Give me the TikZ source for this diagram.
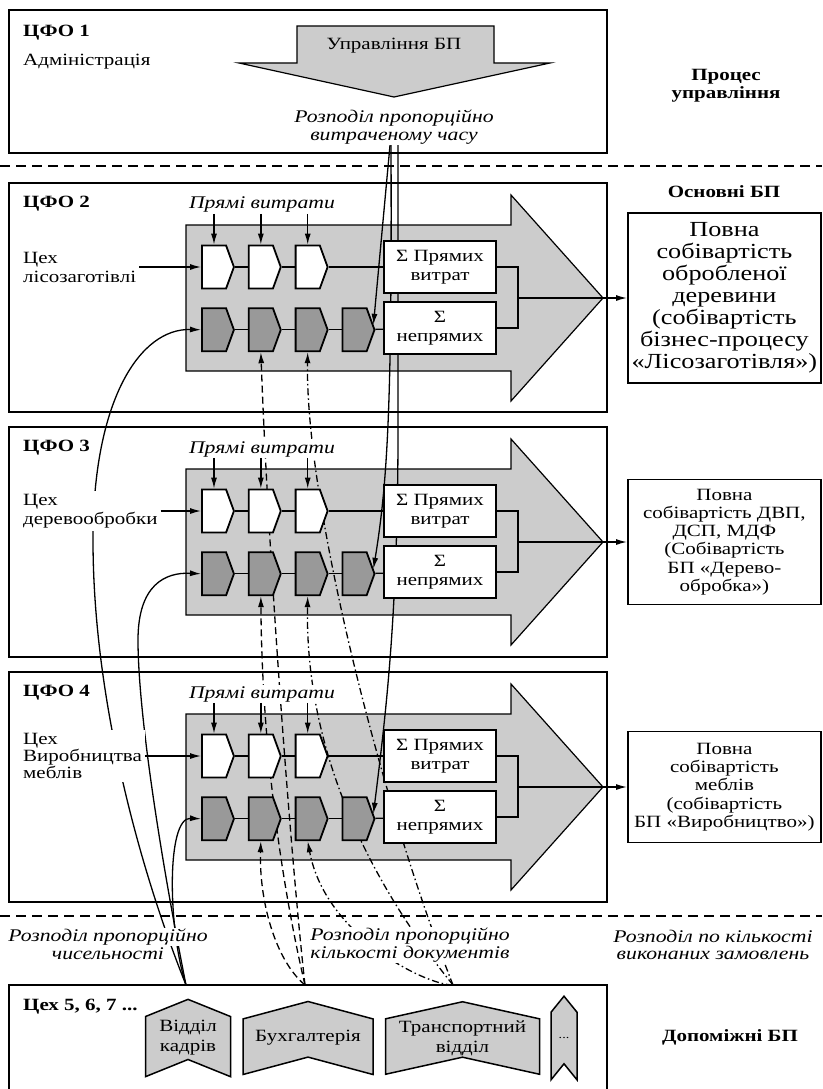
\documentclass[tikz,border=0pt]{standalone}
\usepackage{fontspec}
\setmainfont{Liberation Serif}[FakeStretch=1.22]
\usetikzlibrary{positioning,shapes.symbols,arrows.meta}

\pgfdeclarelayer{back}
\pgfdeclarelayer{mid}
\pgfsetlayers{back,mid,main}

\definecolor{flowgray}{gray}{0.8}
\definecolor{costgray}{gray}{0.6}

\begin{document}
\begin{tikzpicture}[x=1pt,y=-1pt,>={Latex[length=11pt,width=6pt]},
    txt/.style={font=\fontsize{17.2}{19}\selectfont,inner sep=3pt},
    boldtxt/.style={font=\fontsize{17.2}{18}\selectfont\bfseries,inner sep=3pt},
    distr/.style={font=\fontsize{17.8}{17.5}\selectfont\itshape,align=center,fill=white,inner sep=1pt},
    cfobox/.style={draw,line width=1.8pt},
    divider/.style={line width=1.3pt,dash pattern=on 10pt off 6pt},
    flow/.style={draw,line width=1.2pt,fill=flowgray},
    cost/.style={signal,signal to=east,signal pointer angle=140,draw,line width=1.8pt,
        minimum width=32pt,minimum height=43pt,inner sep=0pt},
    wcost/.style={cost,fill=white},
    icost/.style={cost,fill=costgray},
    sumbox/.style={draw,fill=white,line width=1.8pt,minimum width=112pt,minimum height=52pt,
        align=center,inner sep=1pt,font=\fontsize{17.2}{19}\selectfont},
    resbox/.style={draw,line width=1.8pt,anchor=west,align=center,minimum width=193pt,
        inner sep=1pt,font=\fontsize{17.2}{18.3}\selectfont},
    dept/.style={signal,signal to=north,signal from=south,draw,fill=flowgray,line width=1.5pt,
        minimum height=67pt,align=center,inner sep=1pt,font=\fontsize{17.2}{20}\selectfont},
    conn/.style={line width=1.3pt},
    adminline/.style={conn,->},
    staffline/.style={conn,->},
    docline/.style={conn,->,dash pattern=on 7pt off 4pt},
    transline/.style={conn,->,dash pattern=on 7pt off 3pt on 1.5pt off 3pt}]

    \useasboundingbox (0,0) rectangle (822,1089);

    % ЦФО 1
    \node[boldtxt,anchor=west] (c1) at (20,33) {ЦФО 1};
    \node[txt,anchor=west] (adm) at (20,62) {Адміністрація};
    \node[txt] (upr) at (394,46) {Управління БП};
    \coordinate (tip1) at (394,97);
    \node[distr] (ta) at (394,127) {Розподіл пропорційно\\витраченому часу};
    \node[boldtxt,align=center] (proc) at (726,86) {Процес\\управління};
    \node[boldtxt] (osn) at (724,192) {Основні БП};

    % ЦФО 2
    \node[boldtxt,anchor=west] (c2) at (20,204) {ЦФО 2};
    \node[distr] (pv2) at (262,205) {Прямі витрати};
    \node[txt,align=left,anchor=west,fill=white] (ceh2) at (20,267) {Цех\\лісозаготівлі};
    \node[wcost] (w21) at (214,267) {};
    \node[wcost] (w22) [right=13pt of w21] {};
    \node[wcost] (w23) [right=13pt of w22] {};
    \node[icost] (d21) [below=18pt of w21] {};
    \node[icost] (d22) [right=13pt of d21] {};
    \node[icost] (d23) [right=13pt of d22] {};
    \node[icost] (d24) [right=13pt of d23] {};
    \node[sumbox] (s21) at (440,267) {Σ Прямих\\витрат};
    \node[sumbox] (s22) at (440,328) {Σ\\непрямих};
    \coordinate (b2) at (518,298);
    \node[resbox,minimum height=170pt,font=\fontsize{21.5}{22}\selectfont] (r2) at (627,298)
        {Повна\\собівартість\\обробленої\\деревини\\(собівартість\\бізнес-процесу\\«Лісозаготівля»)};

    % ЦФО 3
    \node[boldtxt,anchor=west] (c3) at (20,448) {ЦФО 3};
    \node[distr] (pv3) at (262,449) {Прямі витрати};
    \node[txt,align=left,anchor=west,fill=white] (ceh3) at (20,511) {Цех\\деревообробки};
    \node[wcost] (w31) at (214,511) {};
    \node[wcost] (w32) [right=13pt of w31] {};
    \node[wcost] (w33) [right=13pt of w32] {};
    \node[icost] (d31) [below=18pt of w31] {};
    \node[icost] (d32) [right=13pt of d31] {};
    \node[icost] (d33) [right=13pt of d32] {};
    \node[icost] (d34) [right=13pt of d33] {};
    \node[sumbox] (s31) at (440,511) {Σ Прямих\\витрат};
    \node[sumbox] (s32) at (440,572) {Σ\\непрямих};
    \coordinate (b3) at (518,542);
    \node[resbox,minimum height=125pt] (r3) at (627,542)
        {Повна\\собівартість ДВП,\\ДСП, МДФ\\(Собівартість\\БП «Дерево-\\обробка»)};

    % ЦФО 4
    \node[boldtxt,anchor=west] (c4) at (20,693) {ЦФО 4};
    \node[distr] (pv4) at (262,694) {Прямі витрати};
    \node[txt,align=left,anchor=west,fill=white,font=\fontsize{17.2}{17}\selectfont] (ceh4) at (20,756)
        {Цех\\Виробництва\\меблів};
    \node[wcost] (w41) at (214,756) {};
    \node[wcost] (w42) [right=13pt of w41] {};
    \node[wcost] (w43) [right=13pt of w42] {};
    \node[icost] (d41) [below=18pt of w41] {};
    \node[icost] (d42) [right=13pt of d41] {};
    \node[icost] (d43) [right=13pt of d42] {};
    \node[icost] (d44) [right=13pt of d43] {};
    \node[sumbox] (s41) at (440,756) {Σ Прямих\\витрат};
    \node[sumbox] (s42) at (440,817) {Σ\\непрямих};
    \coordinate (b4) at (518,787);
    \node[resbox,minimum height=111pt] (r4) at (627,787)
        {Повна\\собівартість\\меблів\\(собівартість\\БП «Виробництво»)};

    % допоміжні БП
    \node[distr] (dk1) at (108,937) {Розподіл пропорційно};
    \node[distr] (dk2) at (108,954) {чисельності};
    \node[distr] (dd) at (410,945) {Розподіл пропорційно\\кількості документів};
    \node[distr] (dz) at (713,945) {Розподіл по кількості\\виконаних замовлень};
    \node[boldtxt,anchor=west] (c5) at (20,1007) {Цех 5, 6, 7 ...};
    \node[dept,minimum width=85pt,signal pointer angle=136] (kadry) at (188,1038) {Відділ\\кадрів};
    \node[dept,minimum width=130pt,signal pointer angle=150] (buh) [right=11pt of kadry] {Бухгалтерія};
    \node[dept,minimum width=154pt,signal pointer angle=155] (trans) [right=11pt of buh] {Транспортний\\відділ};
    \node[dept,minimum width=26pt,signal pointer angle=78,font=\fontsize{11.5}{12}\selectfont] (etc) [right=10pt of trans] {...};
    \node[boldtxt] (dop) at (730,1037) {Допоміжні БП};
    \coordinate (hr) at (186,985);
    \coordinate (bh) at (305,985);
    \coordinate (tr) at (453,985);

    \path[draw,conn]
    (w21) edge (w22)
    (w22) edge (w23)
    (w23) edge (s21)
    (d21) edge (d22)
    (d22) edge (d23)
    (d23) edge (d24)
    (d24) edge (s22)
    (w31) edge (w32)
    (w32) edge (w33)
    (w33) edge (s31)
    (d31) edge (d32)
    (d32) edge (d33)
    (d33) edge (d34)
    (d34) edge (s32)
    (w41) edge (w42)
    (w42) edge (w43)
    (w43) edge (s41)
    (d41) edge (d42)
    (d42) edge (d43)
    (d43) edge (d44)
    (d44) edge (s42)
    ;

    \path[draw,conn]
    (ceh2) edge[->] (w21)
    (ceh3) edge[->] (w31)
    (ceh4) edge[->] (w41)
    (w21.north |- pv2.south) edge[->] (w21.north)
    (w22.north |- pv2.south) edge[->] (w22.north)
    (w23.north |- pv2.south) edge[->] (w23.north)
    (w31.north |- pv3.south) edge[->] (w31.north)
    (w32.north |- pv3.south) edge[->] (w32.north)
    (w33.north |- pv3.south) edge[->] (w33.north)
    (w41.north |- pv4.south) edge[->] (w41.north)
    (w42.north |- pv4.south) edge[->] (w42.north)
    (w43.north |- pv4.south) edge[->] (w43.north)
    (b2) edge[->] (r2)
    (b3) edge[->] (r3)
    (b4) edge[->] (r4)
    ;

    \draw[conn] (s21.east) -| (b2) |- (s22.east);
    \draw[conn] (s31.east) -| (b3) |- (s32.east);
    \draw[conn] (s41.east) -| (b4) |- (s42.east);

    \begin{pgfonlayer}{mid}
    % розподіл витрат адміністрації
    \draw[adminline] ([xshift=-4pt]ta.south) -- ([xshift=-2pt,yshift=5pt]d24.east);
    \draw[adminline] ([xshift=-3pt]ta.south) .. controls (392,400) and (388,480) .. ([xshift=-2pt,yshift=5pt]d34.east);
    \draw[adminline] ([xshift=4pt]ta.south) -- (398,430) .. controls (398,620) and (385,720) .. ([xshift=-2pt,yshift=5pt]d44.east);
    % відділ кадрів
    \draw[staffline] (hr) .. controls (140,870) and (93,700) .. (93,540) .. controls (93,400) and (140,328) .. (d21.west);
    \draw[staffline] (hr) .. controls (165,880) and (138,720) .. (138,640) .. controls (138,585) and (165,572) .. (d31.west);
    \draw[staffline] (hr) .. controls (168,930) and (166,817) .. (d41.west);
    % бухгалтерія
    \draw[docline] (bh) .. controls (290,850) and (268,550) .. (d22.south);
    \draw[docline] (bh) .. controls (285,900) and (262,760) .. (d32.south);
    \draw[docline] (bh) .. controls (275,960) and (259,900) .. (d42.south);
    % транспортний відділ
    \draw[transline] (tr) .. controls (380,800) and (305,500) .. (d23.south);
    \draw[transline] (tr) .. controls (360,870) and (305,740) .. (d33.south);
    \draw[transline] (tr) .. controls (425,985) and (325,935) .. (d43.south);
    \end{pgfonlayer}

    \begin{pgfonlayer}{back}
    \draw[cfobox] (9,10) rectangle (607,153);
    \draw[cfobox] (9,183) rectangle (607,412);
    \draw[cfobox] (9,427) rectangle (607,657);
    \draw[cfobox] (9,672) rectangle (607,902);
    \draw[cfobox] (9,985) rectangle (607,1100);
    \draw[divider] (0,166) -- (822,166);
    \draw[divider] (0,916) -- (822,916);
    \draw[flow] (297,26) -- (494,26) -- (494,63) -- (550,63) -- (tip1) -- (239,63) -- (297,63) -- cycle;
    \draw[flow] (186,225) -- (511,225) -- (511,195) -- (603,298) -- (511,401) -- (511,371) -- (186,371) -- cycle;
    \draw[flow] (186,469) -- (511,469) -- (511,439) -- (603,542) -- (511,645) -- (511,615) -- (186,615) -- cycle;
    \draw[flow] (186,714) -- (511,714) -- (511,684) -- (603,787) -- (511,890) -- (511,860) -- (186,860) -- cycle;
    \end{pgfonlayer}
\end{tikzpicture}
\end{document}
